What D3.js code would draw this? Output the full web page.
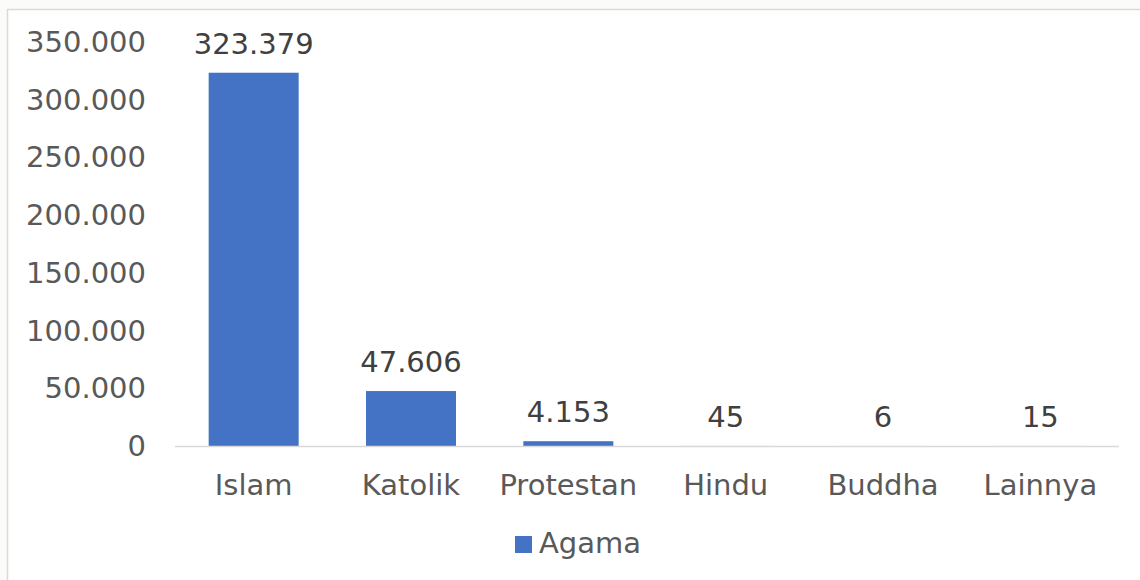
<!DOCTYPE html>
<html>
<head>
<meta charset="utf-8">
<script src="https://cdn.jsdelivr.net/npm/d3@7"></script>
<style>
  html, body { margin: 0; padding: 0; background: #fbfbf9; }
  svg { display: block; font-family: "DejaVu Sans", Verdana, sans-serif; }
</style>
</head>
<body>
<svg id="chart" width="1140" height="580"></svg>
<script>
const categories = ['Islam', 'Katolik', 'Protestan', 'Hindu', 'Buddha', 'Lainnya'];
const values = [323379, 47606, 4153, 45, 6, 15];
const yTicks = [0, 50000, 100000, 150000, 200000, 250000, 300000, 350000];
const seriesName = 'Agama';

const svg = d3.select('#chart');
const fmt = (v) => d3.format(',')(v).replace(/,/g, '.');

// chart frame
svg.append('rect')
  .attr('x', 7.5).attr('y', 9.5)
  .attr('width', 1140).attr('height', 580)
  .attr('fill', '#fff')
  .attr('stroke', '#d9d9d9')
  .attr('stroke-width', 1.5);

const plot = { left: 175, right: 1119, top: 42, bottom: 446 };

const x = d3.scaleBand()
  .domain(categories)
  .range([plot.left, plot.right])
  .paddingInner(0.428)
  .paddingOuter(0.214);

const y = d3.scaleLinear()
  .domain([0, 350000])
  .range([plot.bottom, plot.top]);

// y axis labels
svg.append('g')
  .selectAll('text')
  .data(yTicks)
  .enter()
  .append('text')
  .attr('x', 146)
  .attr('y', (d) => y(d) + 10)
  .attr('text-anchor', 'end')
  .attr('font-size', 29)
  .attr('fill', '#595959')
  .text(fmt);

// bars
svg.append('g')
  .selectAll('rect')
  .data(values)
  .enter()
  .append('rect')
  .attr('x', (d, i) => x(categories[i]))
  .attr('y', (d) => y(d))
  .attr('width', x.bandwidth())
  .attr('height', (d) => plot.bottom - y(d))
  .attr('fill', '#4472c4');

// baseline
svg.append('line')
  .attr('x1', plot.left).attr('x2', plot.right)
  .attr('y1', plot.bottom + 0.5).attr('y2', plot.bottom + 0.5)
  .attr('stroke', '#d9d9d9')
  .attr('stroke-width', 1.5);

// data labels
svg.append('g')
  .selectAll('text')
  .data(values)
  .enter()
  .append('text')
  .attr('x', (d, i) => x(categories[i]) + x.bandwidth() / 2)
  .attr('y', (d) => y(d) - 19)
  .attr('text-anchor', 'middle')
  .attr('font-size', 29)
  .attr('fill', '#404040')
  .text(fmt);

// category labels
svg.append('g')
  .selectAll('text')
  .data(categories)
  .enter()
  .append('text')
  .attr('x', (d) => x(d) + x.bandwidth() / 2)
  .attr('y', 495)
  .attr('text-anchor', 'middle')
  .attr('font-size', 29)
  .attr('fill', '#595959')
  .text((d) => d);

// legend
const legend = svg.append('g');
legend.append('rect')
  .attr('x', 515).attr('y', 536)
  .attr('width', 17).attr('height', 17)
  .attr('fill', '#4472c4');
legend.append('text')
  .attr('x', 539).attr('y', 553)
  .attr('font-size', 29)
  .attr('fill', '#595959')
  .text(seriesName);
</script>
</body>
</html>
